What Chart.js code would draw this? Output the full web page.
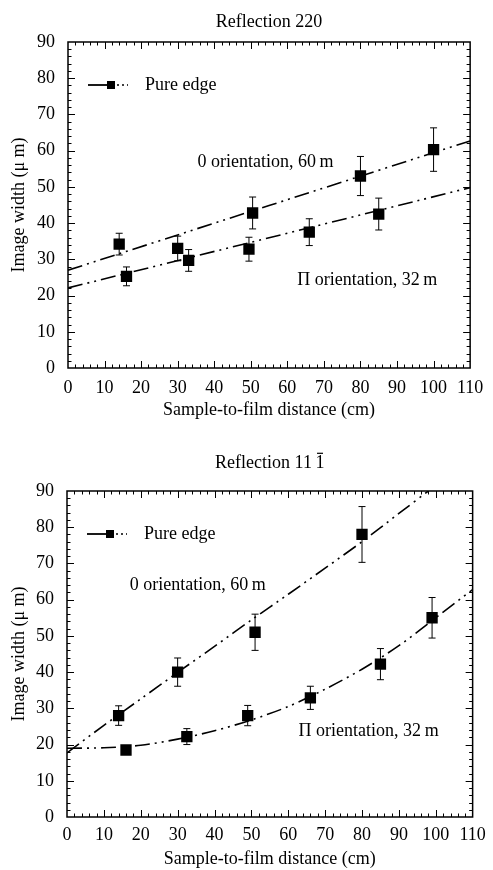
<!DOCTYPE html>
<html>
<head>
<meta charset="utf-8">
<script src="https://cdn.jsdelivr.net/npm/chart.js@4.4.1/dist/chart.umd.min.js"></script>
<style>
  html, body { margin: 0; padding: 0; background: #fff; }
  #wrap { position: relative; width: 493px; height: 870px; }
  canvas { position: absolute; left: 0; }
</style>
</head>
<body>
<div id="wrap">
  <canvas id="grafico220" width="493" height="435" style="top:0"></canvas>
  <canvas id="grafico111" width="493" height="435" style="top:435px"></canvas>
</div>
<script>
// Reflection 220 - measured points (x = cm, y = µm) and error half-widths
const dist220_0 = [14, 30, 50.5, 80, 100];
const width220_0 = [34.2, 33, 42.8, 53, 60.3];
const err220_0 = [3, 3.4, 4.4, 5.4, 6];
const dist220_pi = [16, 33, 49.5, 66, 85];
const width220_pi = [25.3, 29.7, 32.8, 37.5, 42.5];
const err220_pi = [2.6, 3, 3.3, 3.7, 4.4];
// fitted lines
const fitX220 = [0, 110];
const fit220_0 = [27, 62.7];
const fit220_pi = [22.1, 49.8];

// Reflection 11-1
const dist111_0 = [14, 30, 51, 80];
const width111_0 = [28, 40, 51, 78];
const err111_0 = [2.7, 3.9, 5, 7.7];
const dist111_pi = [16, 32.5, 49, 66, 85, 99];
const width111_pi = [18.5, 22.2, 28, 32.9, 42.2, 55];
const err111_pi = [1.2, 2.2, 2.8, 3.2, 4.3, 5.6];
const fitX111_0 = [0, 10, 20, 30, 40, 50, 60, 70, 80, 90, 98];
const fit111_0 = [17.7, 25.3, 32.6, 39.9, 47.1, 54.4, 61.5, 68.7, 76, 83.8, 90];
const fitX111_pi = [0, 10, 20, 30, 40, 50, 60, 70, 80, 90, 100, 110];
const fit111_pi = [19, 19.1, 19.8, 21.5, 23.8, 26.8, 30.5, 35.3, 40.8, 47.3, 55, 62.8];

const xTicks = [0, 10, 20, 30, 40, 50, 60, 70, 80, 90, 100, 110];
const yTicks = [0, 10, 20, 30, 40, 50, 60, 70, 80, 90];

const serif = 'Liberation Serif, Times New Roman, serif';
const ink = '#000';
const fs = 18;
const dashDotDot = [15, 5, 2, 5, 2, 5];

const pts = (xs, ys) => xs.map((x, i) => ({ x: x, y: ys[i] }));

// error bars with small caps
const errorBars = {
  id: 'errorBars',
  afterDatasetsDraw(chart) {
    const { ctx, scales: { x, y } } = chart;
    ctx.save();
    ctx.strokeStyle = ink;
    ctx.lineWidth = 1;
    chart.data.datasets.forEach(ds => {
      if (!ds.yErr) return;
      ds.data.forEach((p, i) => {
        const px = x.getPixelForValue(p.x);
        const top = y.getPixelForValue(p.y + ds.yErr[i]);
        const bot = y.getPixelForValue(p.y - ds.yErr[i]);
        ctx.beginPath();
        ctx.moveTo(px, top); ctx.lineTo(px, bot);
        ctx.moveTo(px - 3.5, top); ctx.lineTo(px + 3.5, top);
        ctx.moveTo(px - 3.5, bot); ctx.lineTo(px + 3.5, bot);
        ctx.stroke();
      });
    });
    ctx.restore();
  }
};

// frame + inward ticks on all four sides, legend and notes
const frame = {
  id: 'frame',
  afterDraw(chart, args, opts) {
    const { ctx, chartArea: a, scales: { x, y } } = chart;
    ctx.save();
    ctx.strokeStyle = ink;
    ctx.lineWidth = 1.5;
    ctx.strokeRect(a.left, a.top, a.right - a.left, a.bottom - a.top);
    ctx.lineWidth = 1;
    ctx.beginPath();
    for (let v = 2; v < 110; v += 2) {
      const px = Math.round(x.getPixelForValue(v)) + 0.5;
      const len = v % 10 === 0 ? 7 : 3.5;
      ctx.moveTo(px, a.bottom); ctx.lineTo(px, a.bottom - len);
      ctx.moveTo(px, a.top); ctx.lineTo(px, a.top + len);
    }
    for (let v = 2; v < 90; v += 2) {
      const py = Math.round(y.getPixelForValue(v)) + 0.5;
      const len = v % 10 === 0 ? 7 : 3.5;
      ctx.moveTo(a.left, py); ctx.lineTo(a.left + len, py);
      ctx.moveTo(a.right, py); ctx.lineTo(a.right - len, py);
    }
    ctx.stroke();

    // legend "Pure edge"
    const ly = a.top + 43;
    ctx.lineWidth = 1.8;
    ctx.beginPath();
    ctx.moveTo(a.left + 20, ly); ctx.lineTo(a.left + 40, ly);
    ctx.stroke();
    ctx.fillStyle = ink;
    ctx.fillRect(a.left + 39, ly - 4, 8, 8);
    ctx.setLineDash([2, 3]);
    ctx.lineWidth = 1.5;
    ctx.beginPath();
    ctx.moveTo(a.left + 49, ly); ctx.lineTo(a.left + 60, ly);
    ctx.stroke();
    ctx.setLineDash([]);
    ctx.font = fs + 'px ' + serif;
    ctx.textBaseline = 'middle';
    ctx.textAlign = 'left';
    ctx.fillText('Pure edge', a.left + 77, ly);

    // curve labels
    (opts.notes || []).forEach(n => {
      ctx.fillText(n.text, x.getPixelForValue(n.x), y.getPixelForValue(n.y));
    });

    // bar over the last index of the title (11 1-bar)
    if (opts.barLast && chart.titleBlock) {
      const tb = chart.titleBlock;
      const t = chart.options.plugins.title;
      const txt = t.text;
      const cx = (tb.left + tb.right) / 2;
      const cy = tb.top + t.padding.top + fs * 1.2 / 2;
      const w = ctx.measureText(txt).width;
      const w1 = ctx.measureText(txt.slice(-1)).width;
      const x1 = cx + w / 2 - w1 + 1.5;
      const x2 = cx + w / 2 - 1.5;
      ctx.lineWidth = 1.2;
      ctx.beginPath();
      ctx.moveTo(x1, cy - 9.5); ctx.lineTo(x2, cy - 9.5);
      ctx.stroke();
    }
    ctx.restore();
  }
};

function makeChart(id, title, lay, sets, notes, barLast) {
  const ctx = document.getElementById(id).getContext('2d');
  return new Chart(ctx, {
    type: 'scatter',
    data: { datasets: sets },
    options: {
      responsive: false,
      animation: false,
      layout: { padding: { left: 0, right: 18, top: 0, bottom: 0 } },
      plugins: {
        legend: { display: false },
        tooltip: { enabled: false },
        title: {
          display: true,
          fullSize: false,
          text: title,
          color: ink,
          font: { family: serif, size: fs, weight: 'normal' },
          padding: { top: lay.top, bottom: lay.bottom }
        },
        frame: { notes: notes, barLast: barLast }
      },
      scales: {
        x: {
          type: 'linear', min: 0, max: 110,
          afterBuildTicks: s => { s.ticks = xTicks.map(v => ({ value: v })); },
          ticks: { color: ink, font: { family: serif, size: fs }, padding: lay.xTickPad, maxRotation: 0 },
          grid: { display: false, drawTicks: false },
          border: { display: false },
          title: {
            display: true, text: 'Sample-to-film distance (cm)', color: ink,
            font: { family: serif, size: fs }, padding: { top: 0, bottom: lay.xTitle }
          },
          afterFit: s => { s.height = lay.xAxisH; }
        },
        y: {
          type: 'linear', min: 0, max: 90,
          afterBuildTicks: s => { s.ticks = yTicks.map(v => ({ value: v })); },
          ticks: { color: ink, font: { family: serif, size: fs }, padding: 13 },
          grid: { display: false, drawTicks: false },
          border: { display: false },
          title: {
            display: true, text: 'Image width (\u03bc m)', color: ink,
            font: { family: serif, size: fs }, padding: { top: 8, bottom: 0 }
          },
          afterFit: s => { s.width = lay.yAxisW; }
        }
      }
    },
    plugins: [errorBars, frame]
  });
}

function fitSet(xs, ys) {
  return {
    data: pts(xs, ys), showLine: true, pointRadius: 0, borderColor: ink,
    borderWidth: 1.6, borderDash: dashDotDot, tension: 0.3, fill: false
  };
}
function pointSet(xs, ys, errs) {
  return {
    data: pts(xs, ys), yErr: errs, showLine: false, pointStyle: 'rect',
    pointRadius: 8, backgroundColor: ink, borderColor: ink, borderWidth: 0
  };
}

document.addEventListener('DOMContentLoaded', () => {
  makeChart('grafico220', 'Reflection 220',
    { top: 11, bottom: 9.4, xTickPad: 9.7, xTitle: 14, xAxisH: 67, yAxisW: 68 },
    [
      fitSet(fitX220, fit220_0),
      fitSet(fitX220, fit220_pi),
      pointSet(dist220_0, width220_0, err220_0),
      pointSet(dist220_pi, width220_pi, err220_pi)
    ],
    [
      { text: '0 orientation, 60\u2009m', x: 35.4, y: 56.8 },
      { text: '\u03a0 orientation, 32\u2009m', x: 62.7, y: 24.2 }
    ], false);

  makeChart('grafico111', 'Reflection 11\u20091',
    { top: 17, bottom: 17.4, xTickPad: 7.2, xTitle: 0, xAxisH: 53, yAxisW: 67 },
    [
      fitSet(fitX111_0, fit111_0),
      fitSet(fitX111_pi, fit111_pi),
      pointSet(dist111_0, width111_0, err111_0),
      pointSet(dist111_pi, width111_pi, err111_pi)
    ],
    [
      { text: '0 orientation, 60\u2009m', x: 17, y: 63.9 },
      { text: '\u03a0 orientation, 32\u2009m', x: 62.8, y: 23.6 }
    ], true);
});
</script>
</body>
</html>
